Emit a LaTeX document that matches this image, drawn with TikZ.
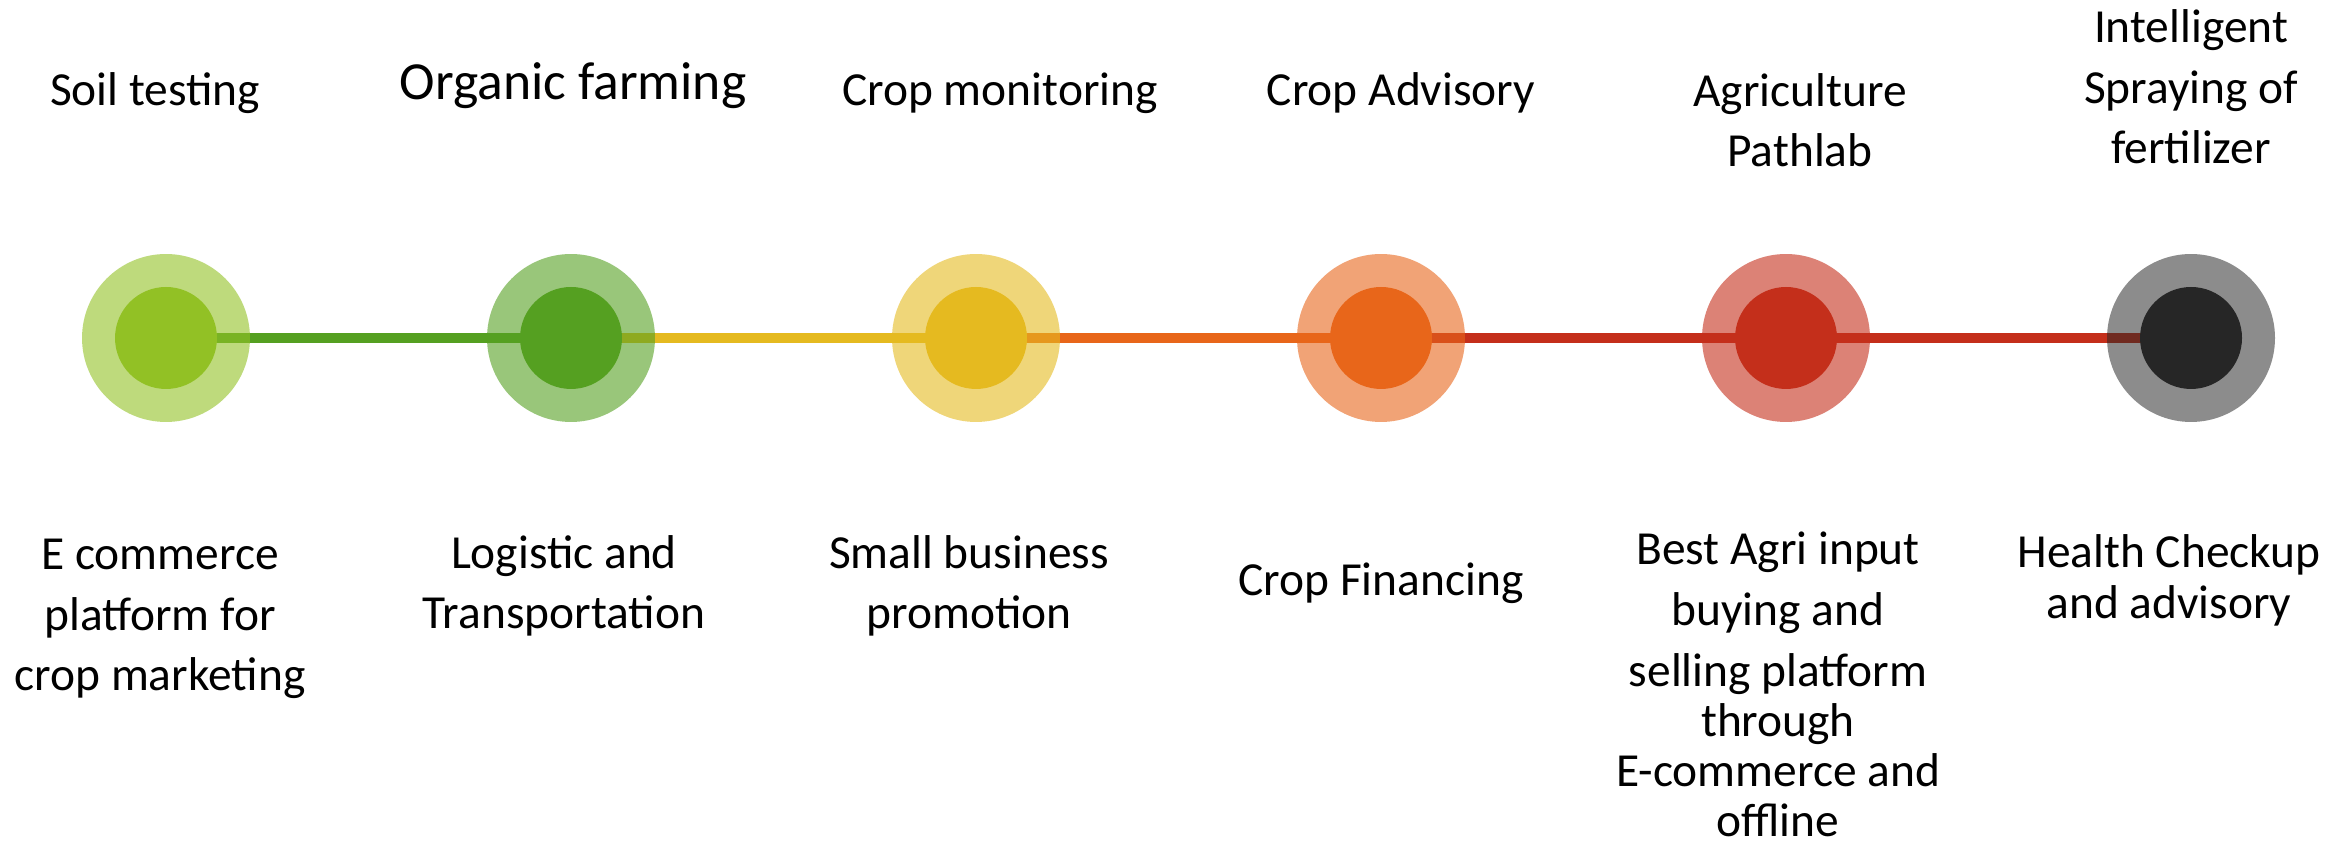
\documentclass[tikz,border=0pt]{standalone}
\usepackage{fontspec}
\setmainfont{Carlito}
\definecolor{lime}{HTML}{92C125}
\definecolor{leaf}{HTML}{55A021}
\definecolor{corn}{HTML}{E5BA20}
\definecolor{carrot}{HTML}{E8661A}
\definecolor{tomato}{HTML}{C42F1B}
\definecolor{coal}{HTML}{262626}
\begin{document}
\begin{tikzpicture}[x=0.02cm, y=0.02cm, line cap=butt,
	ring/.style={circle, inner sep=0pt, minimum size=3.36cm, fill opacity=0.6},
	dot/.style={circle, inner sep=0pt, minimum size=2.04cm},
	link/.style={line width=0.2cm},
	lbl/.style={align=center, anchor=base, inner sep=0pt, font=\fontsize{27}{34.6}\selectfont}]
	\useasboundingbox (0,0) rectangle (2351,847);
	% stations on the line
	\coordinate (p1) at (166,509);
	\coordinate (p2) at (571,509);
	\coordinate (p3) at (976,509);
	\coordinate (p4) at (1381,509);
	\coordinate (p5) at (1786,509);
	\coordinate (p6) at (2191,509);
	\draw[link, leaf] (p1)--(p2);
	\draw[link, corn] (p2)--(p3);
	\draw[link, carrot] (p3)--(p4);
	\draw[link, tomato] (p4)--(p5);
	\draw[link, tomato] (p5)--(p6);
	\node[ring, fill=lime] (r1) at (p1) {};
	\node[ring, fill=leaf] (r2) at (p2) {};
	\node[ring, fill=corn] (r3) at (p3) {};
	\node[ring, fill=carrot] (r4) at (p4) {};
	\node[ring, fill=tomato] (r5) at (p5) {};
	\node[ring, fill=coal, fill opacity=0.53] (r6) at (p6) {};
	\node[dot, fill=lime] (d1) at (p1) {};
	\node[dot, fill=leaf] (d2) at (p2) {};
	\node[dot, fill=corn] (d3) at (p3) {};
	\node[dot, fill=carrot] (d4) at (p4) {};
	\node[dot, fill=tomato] (d5) at (p5) {};
	\node[dot, fill=coal] (d6) at (p6) {};
	% labels above (anchored at the last baseline)
	\node[lbl] (soil) at (155,741) {Soil testing};
	\node[lbl, font=\fontsize{30.5}{38}\selectfont] (organic) at (573,747) {Organic farming};
	\node[lbl] (monitor) at (1000,741) {Crop monitoring};
	\node[lbl] (advisory) at (1401,741) {Crop Advisory};
	\node[lbl] (pathlab) at (1800,680) {Agriculture\\Pathlab};
	\node[lbl] (spray) at (2191,683) {Intelligent\\Spraying of\\fertilizer};
	% labels below
	\node[lbl] (market) at (160,156) {E commerce\\platform for\\crop marketing};
	\node[lbl] (logistic) at (564,218) {Logistic and\\Transportation};
	\node[lbl] (business) at (969,218) {Small business\\promotion};
	\node[lbl] (finance) at (1381,251) {Crop Financing};
	\node[lbl, text depth=0pt] (input) at (1778,10) {Best Agri input\\buying and\\selling platform\\[-6pt]through\\[-6pt]E-commerce and\\[-6pt]offline};
	\node[lbl] (health) at (2169,228) {Health Checkup\\[-5.5pt]and advisory};
\end{tikzpicture}
\end{document}
